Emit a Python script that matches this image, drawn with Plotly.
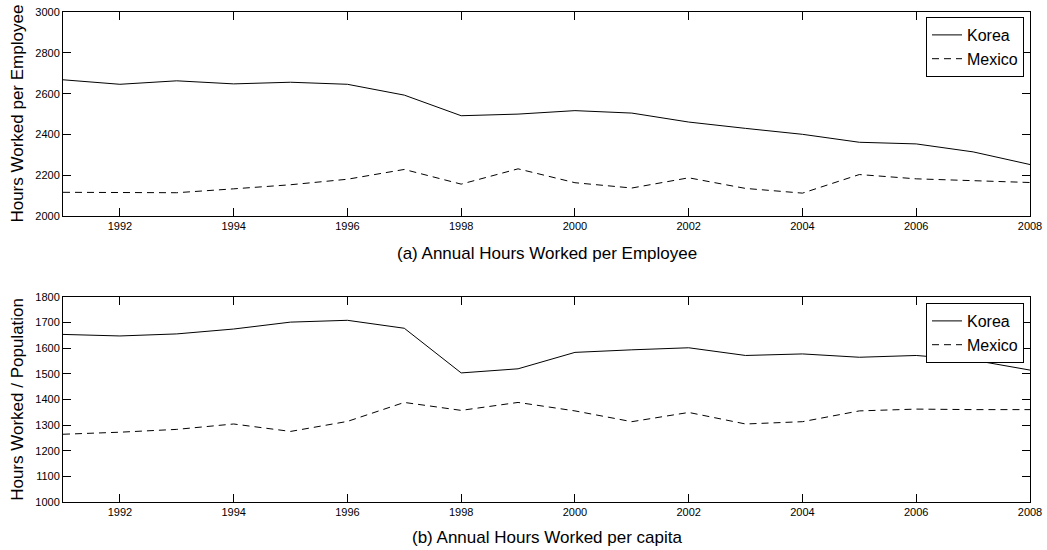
import plotly.graph_objects as go
from plotly.subplots import make_subplots

# Years covered by both panels
years = list(range(1991, 2009))

# (a) Annual hours worked per employee
korea_per_employee = [2668, 2646, 2663, 2648, 2656, 2646, 2593, 2492, 2500, 2517,
                      2505, 2461, 2430, 2401, 2362, 2354, 2315, 2253]
mexico_per_employee = [2117, 2117, 2115, 2134, 2154, 2181, 2229, 2157, 2232, 2164,
                       2138, 2188, 2136, 2113, 2204, 2183, 2173, 2165]

# (b) Annual hours worked per capita
korea_per_capita = [1653, 1647, 1655, 1674, 1701, 1708, 1677, 1503, 1519, 1583,
                    1593, 1601, 1571, 1577, 1564, 1571, 1553, 1514]
mexico_per_capita = [1264, 1272, 1283, 1304, 1275, 1314, 1388, 1357, 1388, 1355,
                     1313, 1349, 1304, 1313, 1355, 1362, 1360, 1360]

FONT = "Liberation Sans, Arial, Helvetica, sans-serif"
W, H = 1047, 550
M_L, M_R, M_T, M_B = 63, 17, 12, 48
PLOT_H = H - M_T - M_B


def py(px):
    """Convert a pixel row (from the top of the page) to paper y."""
    return 1 - (px - M_T) / PLOT_H


top_dom = [py(216.2), 1.0]
bot_dom = [0.0, py(296.7)]

fig = make_subplots(rows=2, cols=1, shared_xaxes=False, vertical_spacing=0.05)

solid = dict(color="black", width=1)
dashed = dict(color="black", width=1, dash="7px,5px")

fig.add_trace(go.Scatter(x=years, y=korea_per_employee, mode="lines", name="Korea",
                         line=solid, legend="legend"), row=1, col=1)
fig.add_trace(go.Scatter(x=years, y=mexico_per_employee, mode="lines", name="Mexico",
                         line=dashed, legend="legend"), row=1, col=1)
fig.add_trace(go.Scatter(x=years, y=korea_per_capita, mode="lines", name="Korea",
                         line=solid, legend="legend2"), row=2, col=1)
fig.add_trace(go.Scatter(x=years, y=mexico_per_capita, mode="lines", name="Mexico",
                         line=dashed, legend="legend2"), row=2, col=1)

axis_common = dict(
    showline=True, linecolor="black", linewidth=1, mirror="ticks",
    ticks="inside", ticklen=8, tickwidth=1, tickcolor="black",
    showgrid=False, zeroline=False, automargin=False,
    tickfont=dict(family=FONT, size=11, color="black"),
)

for r in (1, 2):
    fig.update_xaxes(range=[1991, 2008], tick0=1992, dtick=2, row=r, col=1, **axis_common)

fig.update_yaxes(range=[2000, 3000], dtick=200, row=1, col=1, **axis_common)
fig.update_yaxes(range=[1000, 1800], dtick=100, row=2, col=1, **axis_common)

fig.update_layout(
    xaxis=dict(domain=[0, 1]), xaxis2=dict(domain=[0, 1]),
    yaxis=dict(domain=top_dom), yaxis2=dict(domain=bot_dom),
)

legend_common = dict(
    xanchor="right", yanchor="top", x=(1024 - M_L) / (W - M_L - M_R),
    bgcolor="white", bordercolor="black", borderwidth=1,
    font=dict(family=FONT, size=16, color="black"),
    tracegroupgap=0, itemwidth=30,
)

fig.update_layout(
    width=W, height=H,
    margin=dict(l=M_L, r=M_R, t=M_T, b=M_B, autoexpand=False),
    paper_bgcolor="white", plot_bgcolor="white",
    font=dict(family=FONT, color="black"),
    showlegend=True,
    legend=dict(y=py(17), **legend_common),
    legend2=dict(y=py(303), **legend_common),
)

annots = [
    dict(text="Hours Worked per Employee", x=0, y=(top_dom[0] + top_dom[1]) / 2,
         xshift=17.5 - M_L, textangle=-90),
    dict(text="Hours Worked / Population", x=0, y=(bot_dom[0] + bot_dom[1]) / 2,
         xshift=17.5 - M_L, textangle=-90),
    dict(text="(a) Annual Hours Worked per Employee", x=0.5, y=py(253.5)),
    dict(text="(b) Annual Hours Worked per capita", x=0.5, y=py(537.5)),
]
for a in annots:
    fig.add_annotation(xref="paper", yref="paper", showarrow=False,
                       xanchor="center", yanchor="middle",
                       font=dict(family=FONT, size=17, color="black"), **a)

fig.write_html("out.html")
